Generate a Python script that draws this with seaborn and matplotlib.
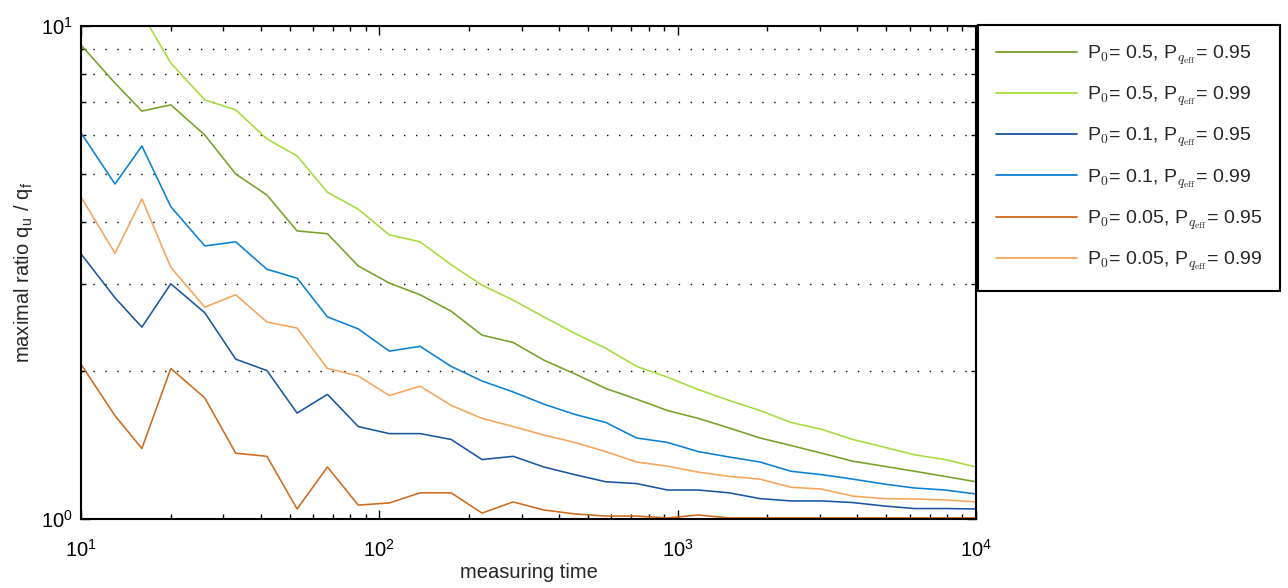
import numpy as np
import pandas as pd
import matplotlib
matplotlib.use("Agg")
import matplotlib.pyplot as plt
from matplotlib.ticker import LogLocator, NullFormatter, LogFormatterSciNotation
import seaborn as sns

# measuring times (log-spaced, rounded)
measuring_time = [10, 13, 16, 20, 26, 33, 42, 53, 67, 85, 108, 137, 174, 221, 281,
                  356, 452, 574, 728, 924, 1172, 1487, 1887, 2395, 3039, 3857, 4894,
                  6210, 7880, 10000]

ratio_p05_q95 = [9.15, 7.66, 6.72, 6.92, 6.01, 5.01, 4.54, 3.84, 3.79, 3.26, 3.01, 2.85,
                 2.64, 2.36, 2.28, 2.10, 1.97, 1.84, 1.75, 1.66, 1.60, 1.53, 1.46, 1.41,
                 1.36, 1.31, 1.28, 1.25, 1.22, 1.19]
ratio_p05_q99 = [13.5, 11.8, 10.6, 8.41, 7.08, 6.76, 5.90, 5.45, 4.60, 4.25, 3.77, 3.65,
                 3.28, 2.98, 2.78, 2.57, 2.38, 2.22, 2.04, 1.94, 1.83, 1.74, 1.66, 1.57,
                 1.52, 1.45, 1.40, 1.35, 1.32, 1.275]
ratio_p01_q95 = [3.45, 2.81, 2.45, 3.00, 2.62, 2.11, 2.00, 1.64, 1.79, 1.54, 1.49, 1.49,
                 1.45, 1.32, 1.34, 1.275, 1.23, 1.19, 1.18, 1.145, 1.145, 1.13, 1.10, 1.088,
                 1.088, 1.08, 1.063, 1.05, 1.05, 1.048]
ratio_p01_q99 = [6.07, 4.78, 5.71, 4.30, 3.58, 3.65, 3.21, 3.08, 2.57, 2.43, 2.19, 2.24,
                 2.04, 1.905, 1.81, 1.71, 1.63, 1.57, 1.46, 1.43, 1.37, 1.336, 1.305, 1.25,
                 1.23, 1.205, 1.178, 1.156, 1.145, 1.124]
ratio_p005_q95 = [2.06, 1.62, 1.39, 2.02, 1.76, 1.36, 1.34, 1.048, 1.275, 1.067, 1.078, 1.13,
                  1.13, 1.028, 1.083, 1.043, 1.024, 1.014, 1.014, 1.005, 1.019, 1.005, 1.005,
                  1.005, 1.005, 1.005, 1.005, 1.005, 1.005, 1.005]
ratio_p005_q99 = [4.50, 3.46, 4.46, 3.24, 2.69, 2.85, 2.51, 2.44, 2.02, 1.95, 1.78, 1.86,
                  1.70, 1.60, 1.54, 1.48, 1.43, 1.37, 1.305, 1.28, 1.245, 1.22, 1.205, 1.16,
                  1.15, 1.113, 1.10, 1.098, 1.093, 1.083]

series_labels = [
    r"P$_{0}$= 0.5, P$_{q_{\mathrm{eff}}}$= 0.95",
    r"P$_{0}$= 0.5, P$_{q_{\mathrm{eff}}}$= 0.99",
    r"P$_{0}$= 0.1, P$_{q_{\mathrm{eff}}}$= 0.95",
    r"P$_{0}$= 0.1, P$_{q_{\mathrm{eff}}}$= 0.99",
    r"P$_{0}$= 0.05, P$_{q_{\mathrm{eff}}}$= 0.95",
    r"P$_{0}$= 0.05, P$_{q_{\mathrm{eff}}}$= 0.99",
]
series_values = [ratio_p05_q95, ratio_p05_q99, ratio_p01_q95,
                 ratio_p01_q99, ratio_p005_q95, ratio_p005_q99]
series_colors = ["#76a126", "#a5dc3c", "#1a56a0", "#0a80d4", "#cd6b1f", "#f6a45c"]

df = pd.concat(
    [pd.DataFrame({"t": measuring_time, "ratio": vals, "series": lab})
     for lab, vals in zip(series_labels, series_values)],
    ignore_index=True,
)

sns.set_style("ticks")
plt.rcParams["font.family"] = ["Liberation Sans", "DejaVu Sans"]
plt.rcParams["mathtext.fontset"] = "cm"

fig = plt.figure(figsize=(12.88, 5.88), dpi=100)
ax = fig.add_axes([81 / 1288, 1 - 519 / 588, (976 - 81) / 1288, (519 - 26) / 588])

sns.lineplot(data=df, x="t", y="ratio", hue="series", hue_order=series_labels,
             palette=series_colors, linewidth=1.15, ax=ax, legend=True,
             estimator=None, sort=False)

ax.set_xscale("log")
ax.set_yscale("log")
ax.set_xlim(10, 1e4)
ax.set_ylim(1, 10)

# minor-grid dotted lines at 2..9
for v in range(2, 10):
    ax.axhline(v, color="black", linestyle=(0, (1, 7.6)), linewidth=1.0, zorder=0.5)

ax.xaxis.set_major_locator(LogLocator(base=10, numticks=10))
ax.xaxis.set_minor_locator(LogLocator(base=10, subs=np.arange(2, 10), numticks=20))
ax.yaxis.set_major_locator(LogLocator(base=10, numticks=10))
ax.yaxis.set_minor_locator(LogLocator(base=10, subs=np.arange(2, 10), numticks=20))
ax.xaxis.set_minor_formatter(NullFormatter())
ax.yaxis.set_minor_formatter(NullFormatter())
ax.xaxis.set_major_formatter(LogFormatterSciNotation())
ax.yaxis.set_major_formatter(LogFormatterSciNotation())

ax.tick_params(which="both", direction="in", top=True, right=True,
               colors="black", labelsize=14.5, width=1.0)
ax.tick_params(which="major", length=6.5)
ax.tick_params(axis="x", which="major", pad=14)
ax.tick_params(axis="y", which="major", pad=6)
ax.tick_params(which="minor", length=3.6)
for s in ax.spines.values():
    s.set_linewidth(1.5)
    s.set_color("black")
    s.set_zorder(3)

ax.set_xlabel("measuring time", fontsize=14.5, labelpad=2)
ax.set_ylabel(r"maximal ratio q$_\mathregular{u}$ / q$_\mathregular{f}$", fontsize=14.5,
              labelpad=4)

handles, labels = ax.get_legend_handles_labels()
leg = ax.legend(handles, labels, loc="upper left",
                bbox_to_anchor=(978 / 1288, 1 - 25 / 588, (1280 - 978) / 1288, 0.0),
                bbox_transform=fig.transFigure, mode="expand", fontsize=14,
                frameon=True, fancybox=False, framealpha=1, edgecolor="black",
                borderpad=0.95, labelspacing=0.91, handlelength=4.12,
                handletextpad=0.52, borderaxespad=0)
leg.get_frame().set_linewidth(1.5)
for ln in leg.get_lines():
    ln.set_linewidth(1.3)

fig.savefig("out.png", dpi=100, facecolor="white")
